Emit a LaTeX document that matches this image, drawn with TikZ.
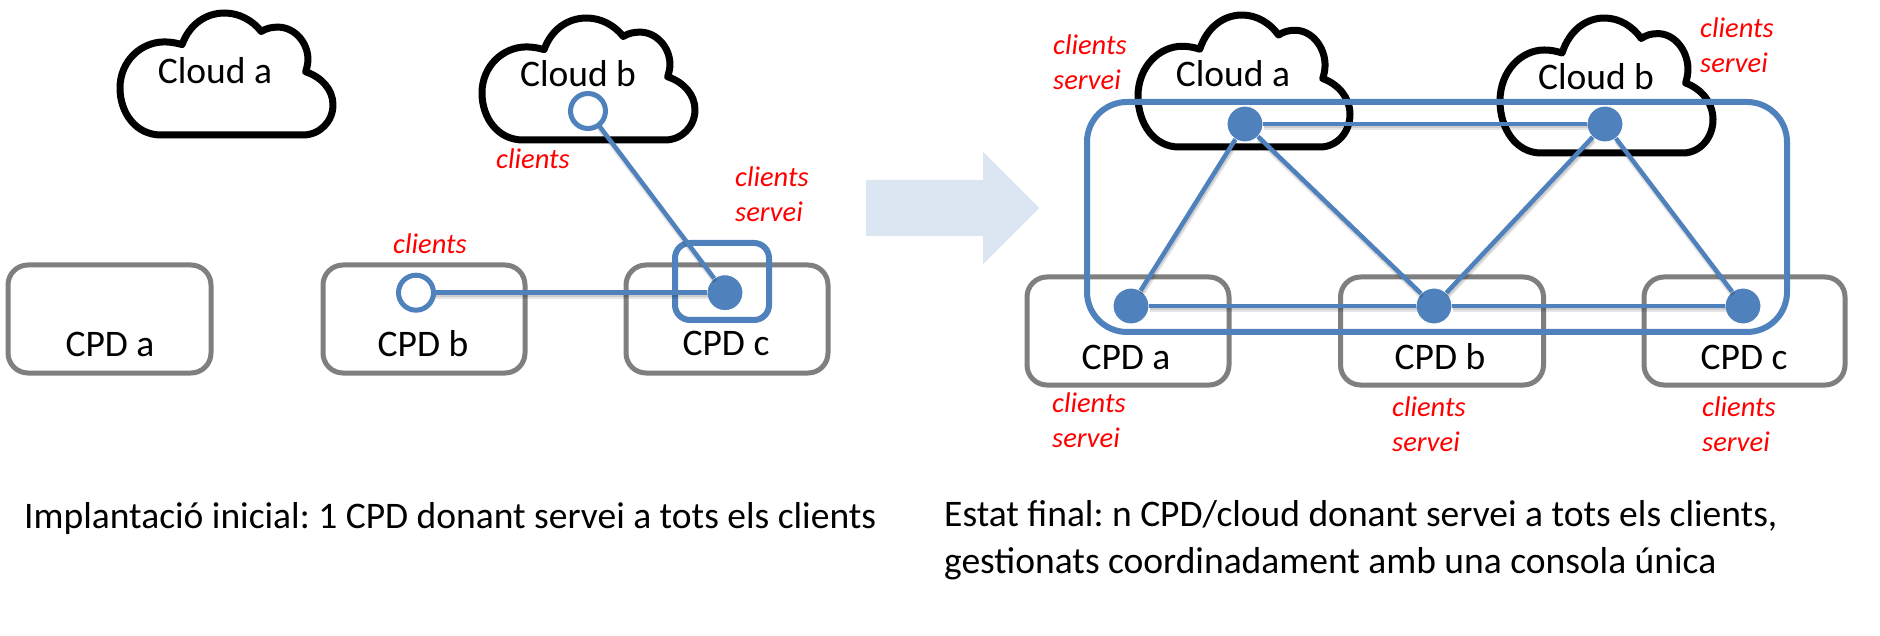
\documentclass[tikz,border=0pt]{standalone}
\usepackage{fontspec}
\setmainfont{Carlito}
\frenchspacing
\definecolor{linkblue}{HTML}{4F81BD}
\definecolor{boxgrey}{HTML}{7F7F7F}
\definecolor{arrowfill}{HTML}{DCE6F2}
\tikzset{
  cpdbox/.style={draw=boxgrey,line width=5pt,rounded corners=20pt,inner sep=0pt,outer sep=0pt},
  domainbox/.style={draw=linkblue,line width=6pt,inner sep=0pt,outer sep=0pt},
  title/.style={font=\fontsize{37.5}{37.5}\selectfont,inner sep=0pt},
  caption/.style={font=\fontsize{37.5}{47}\selectfont,inner sep=0pt,align=left},
  role/.style={font=\fontsize{28.5}{35}\selectfont\itshape,text=red,inner sep=0pt,align=left},
  solidpoint/.style={circle,fill=linkblue,draw=white,line width=1pt,minimum size=36pt,inner sep=0pt,outer sep=0pt},
  openpoint/.style={circle,fill=white,draw=linkblue,line width=5pt,minimum size=35pt,inner sep=0pt,outer sep=0pt},
  linkline/.style={draw=linkblue,line width=4.5pt},
  linkhalo/.style={draw=black,opacity=.10,line width=#1,transform canvas={xshift=1pt,yshift=-3pt}},
  cloudline/.style={draw=black,fill=white,line width=7pt,line join=round},
}
% A connector with its soft drop shadow
\newcommand\linkpair[2]{%
  \draw[linkhalo=6pt] (#1) -- (#2);
  \draw[linkhalo=3pt] (#1) -- (#2);
  \draw[linkline] (#1) -- (#2);}
% Cloud outline: left, top, width, height
\newcommand\cloudshape[4]{%
  \begin{scope}[shift={(#1,#2)},xscale=#3/638,yscale=#4/363]
    \draw[cloudline] (123,363)
      .. controls (48,363) and (0,298) .. (0,223)
      .. controls (0,143) and (63,86) .. (133,86)
      .. controls (151,86) and (168,89) .. (186,94)
      .. controls (208,33) and (258,0) .. (313,0)
      .. controls (358,0) and (398,23) .. (423,55)
      .. controls (438,46) and (453,42) .. (473,42)
      .. controls (523,42) and (563,88) .. (563,138)
      .. controls (563,150) and (560,163) .. (556,175)
      .. controls (603,190) and (638,228) .. (638,273)
      .. controls (638,323) and (598,363) .. (548,363)
      -- cycle;
  \end{scope}}
\begin{document}
\begin{tikzpicture}[x=1pt,y=-1pt]
  \useasboundingbox[fill=white] (0,0) rectangle (1880,636);

  % Initial layout
  \cloudshape{120}{13}{213}{122}
  \cloudshape{482}{18}{213}{122}
  \node[title] (lcloudatext) at (215,71) {Cloud a};
  \node[title] (lcloudbtext) at (578,74) {Cloud b};

  \node[cpdbox,minimum width=203pt,minimum height=108pt] (lcpda) at (109.5,319) {};
  \node[cpdbox,minimum width=202pt,minimum height=108pt] (lcpdb) at (424,319) {};
  \node[cpdbox,minimum width=202pt,minimum height=108pt] (lcpdc) at (727,319) {};
  \node[title] (lcpdatext) at (110,344) {CPD a};
  \node[title] (lcpdbtext) at (423,344) {CPD b};
  \node[title] (lcpdctext) at (726,343) {CPD c};

  \node[domainbox,rounded corners=15pt,minimum width=94pt,minimum height=77pt] (ldomain) at (722,281.5) {};

  \node[openpoint] (lclientcloud) at (588,111) {};
  \node[openpoint] (lclientcpd) at (416,292.7) {};
  \node[solidpoint] (lservice) at (725,292.7) {};
  \linkpair{lclientcloud}{lservice}
  \linkpair{lclientcpd}{lservice}

  \node[role] (lrolecloud) at (533,159) {clients};
  \node[role] (lrolecpd) at (430,244) {clients};
  \node[role,anchor=west] (lroleservice) at (735,194) {clients\\servei};

  % Transition arrow
  \fill[arrowfill] (866,180) -- (983,180) -- (983,152) -- (1039,208) -- (983,264) -- (983,236) -- (866,236) -- cycle;

  % Final layout
  \cloudshape{1138}{15}{212}{132}
  \cloudshape{1500}{18}{213}{135}
  \node[title] (rcloudatext) at (1233,74) {Cloud a};
  \node[title] (rcloudbtext) at (1596,77) {Cloud b};

  \node[cpdbox,minimum width=202pt,minimum height=108pt] (rcpda) at (1128,331) {};
  \node[cpdbox,minimum width=203pt,minimum height=108pt] (rcpdb) at (1442,331) {};
  \node[cpdbox,minimum width=201pt,minimum height=108pt] (rcpdc) at (1744.5,331) {};
  \node[title] (rcpdatext) at (1126,357) {CPD a};
  \node[title] (rcpdbtext) at (1440,357) {CPD b};
  \node[title] (rcpdctext) at (1744,357) {CPD c};

  \node[domainbox,rounded corners=40pt,minimum width=700pt,minimum height=230pt] (rdomain) at (1437,217) {};

  \node[solidpoint] (rcla) at (1245,124) {};
  \node[solidpoint] (rclb) at (1605,124) {};
  \node[solidpoint] (rcpa) at (1131,306) {};
  \node[solidpoint] (rcpb) at (1434,306) {};
  \node[solidpoint] (rcpc) at (1743,306) {};
  \linkpair{rcla}{rclb}
  \linkpair{rcpa}{rcpb}
  \linkpair{rcpb}{rcpc}
  \linkpair{rcla}{rcpa}
  \linkpair{rcla}{rcpb}
  \linkpair{rclb}{rcpb}
  \linkpair{rclb}{rcpc}

  \node[role,anchor=west] (rroleclouda) at (1053,62) {clients\\servei};
  \node[role,anchor=west] (rrolecloudb) at (1700,45) {clients\\servei};
  \node[role,anchor=west] (rrolecpda) at (1052,420) {clients\\servei};
  \node[role,anchor=west] (rrolecpdb) at (1392,424) {clients\\servei};
  \node[role,anchor=west] (rrolecpdc) at (1702,424) {clients\\servei};

  % Captions
  \node[caption,anchor=base west] (captioninitial) at (24,528) {Implantació inicial: 1 CPD donant servei a tots els clients};
  \node[caption,anchor=west] (captionfinal) at (944,540) {Estat final: n CPD/cloud donant servei a tots els clients,\\gestionats coordinadament amb una consola única};
\end{tikzpicture}
\end{document}
